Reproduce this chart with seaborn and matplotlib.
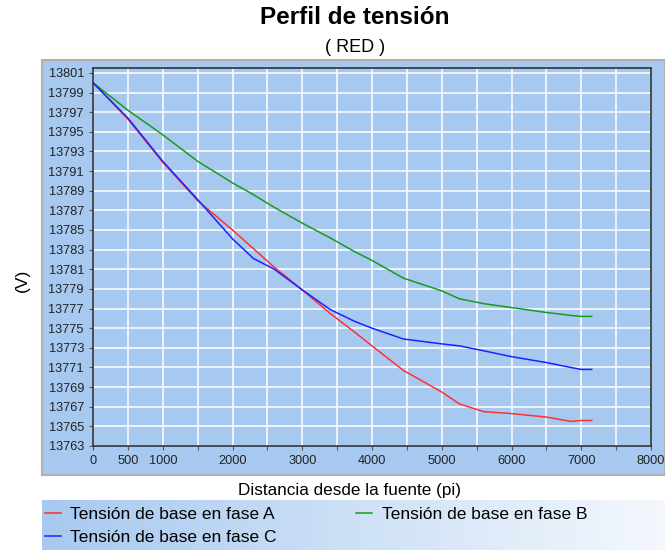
import numpy as np
import pandas as pd
import matplotlib
matplotlib.use("Agg")
import matplotlib.pyplot as plt
from matplotlib.patches import Rectangle
import seaborn as sns

plt.rcParams['font.family'] = ['Liberation Sans', 'DejaVu Sans']

# distance from the source (pi) and voltages per phase (V)
distancia = [0, 500, 1000, 1500, 2000, 2300, 2600, 3000, 3400, 3750, 4000,
             4450, 5000, 5250, 5600, 6000, 6500, 6850, 7000, 7150]
fase_a = [13800, 13796.3, 13791.9, 13788.0, 13785.0, 13783.1, 13781.2, 13778.9,
          13776.5, 13774.6, 13773.2, 13770.7, 13768.5, 13767.3, 13766.5,
          13766.3, 13765.95, 13765.5, 13765.6, 13765.6]
fase_b = [13800, 13797.2, 13794.7, 13792.0, 13789.8, 13788.6, 13787.3, 13785.7,
          13784.2, 13782.8, 13781.9, 13780.1, 13778.8, 13778.0, 13777.5,
          13777.1, 13776.6, 13776.3, 13776.2, 13776.2]
fase_c = [13800, 13796.4, 13792.0, 13788.1, 13784.1, 13782.1, 13781.0, 13778.9,
          13776.9, 13775.7, 13775.0, 13773.9, 13773.4, 13773.2, 13772.7,
          13772.1, 13771.5, 13771.0, 13770.8, 13770.8]
series = ['Tensión de base en fase A', 'Tensión de base en fase B',
          'Tensión de base en fase C']
colores = ['#ff3030', '#1a9a1a', '#2020ff']

x_ticks = list(range(0, 8001, 500))
x_labels = ['0', '500', '1000', '', '2000', '', '3000', '', '4000', '',
            '5000', '', '6000', '', '7000', '', '8000']
y_ticks = list(range(13763, 13802, 2))

df = pd.concat([
    pd.DataFrame({'dist': distancia, 'v': vals, 'serie': name})
    for name, vals in zip(series, [fase_a, fase_b, fase_c])
])

W, H = 665, 550
fig = plt.figure(figsize=(W / 100, H / 100), dpi=100)
panel = '#a7c9ef'

# outer blue panel behind the plot
fig.patches.append(Rectangle((42 / W, 1 - 475 / H), 623 / W, 415 / H,
                             transform=fig.transFigure, facecolor=panel,
                             edgecolor='#b0b0b0', lw=1.5, zorder=-5))

ax = fig.add_axes([93 / W, 1 - 446 / H, 558 / W, 378 / H])
ax.set_zorder(2)
ax.set_facecolor(panel)
sns.lineplot(data=df, x='dist', y='v', hue='serie', hue_order=series,
             palette=colores, linewidth=1.1, ax=ax, sort=True, estimator=None)
handles, labels = ax.get_legend_handles_labels()
ax.get_legend().remove()

ax.set_xlim(0, 8000)
ax.set_ylim(13763, 13801.5)
ax.set_xticks(x_ticks)
ax.set_xticklabels(x_labels)
ax.set_yticks(y_ticks)
ax.grid(True, color='white', lw=1.1)
ax.set_axisbelow(True)
ax.tick_params(labelsize=9.2, length=3, color='#555555', labelcolor='#222222')
for sp in ax.spines.values():
    sp.set_color('#333333')
    sp.set_linewidth(1.2)
ax.set_xlabel('')
ax.set_ylabel('')

fig.text(355 / W, 1 - 18 / H, 'Perfil de tensión', ha='center', va='center',
         fontsize=17.5, fontweight='bold')
fig.text(355 / W, 1 - 47 / H, '( RED )', ha='center', va='center', fontsize=13)
fig.text(350 / W, 1 - 490 / H, 'Distancia desde la fuente (pi)', ha='center',
         va='center', fontsize=12.3)
fig.text(22 / W, 1 - 280 / H, '(V)', ha='center', va='center', fontsize=12.5,
         rotation=90)

# legend area with gradient background
lax = fig.add_axes([42 / W, 0, 623 / W, 50 / H])
grad = np.linspace(0, 1, 256).reshape(1, -1)
cmap = matplotlib.colors.LinearSegmentedColormap.from_list('g', [panel, '#f4f8fd'])
lax.imshow(grad, aspect='auto', cmap=cmap, extent=[0, 1, 0, 1])
lax.set_axis_off()
# row-major order: A, B on the first row, C below
order = [0, 2, 1]
lax.legend([handles[i] for i in order], [labels[i] for i in order], ncol=2,
           loc='upper left', frameon=False, fontsize=12.5, handlelength=0.9,
           handletextpad=0.55, columnspacing=4.6, borderaxespad=0.0,
           labelspacing=0.45, bbox_to_anchor=(-0.0064, 1.0))

fig.savefig('out.png', dpi=100)
